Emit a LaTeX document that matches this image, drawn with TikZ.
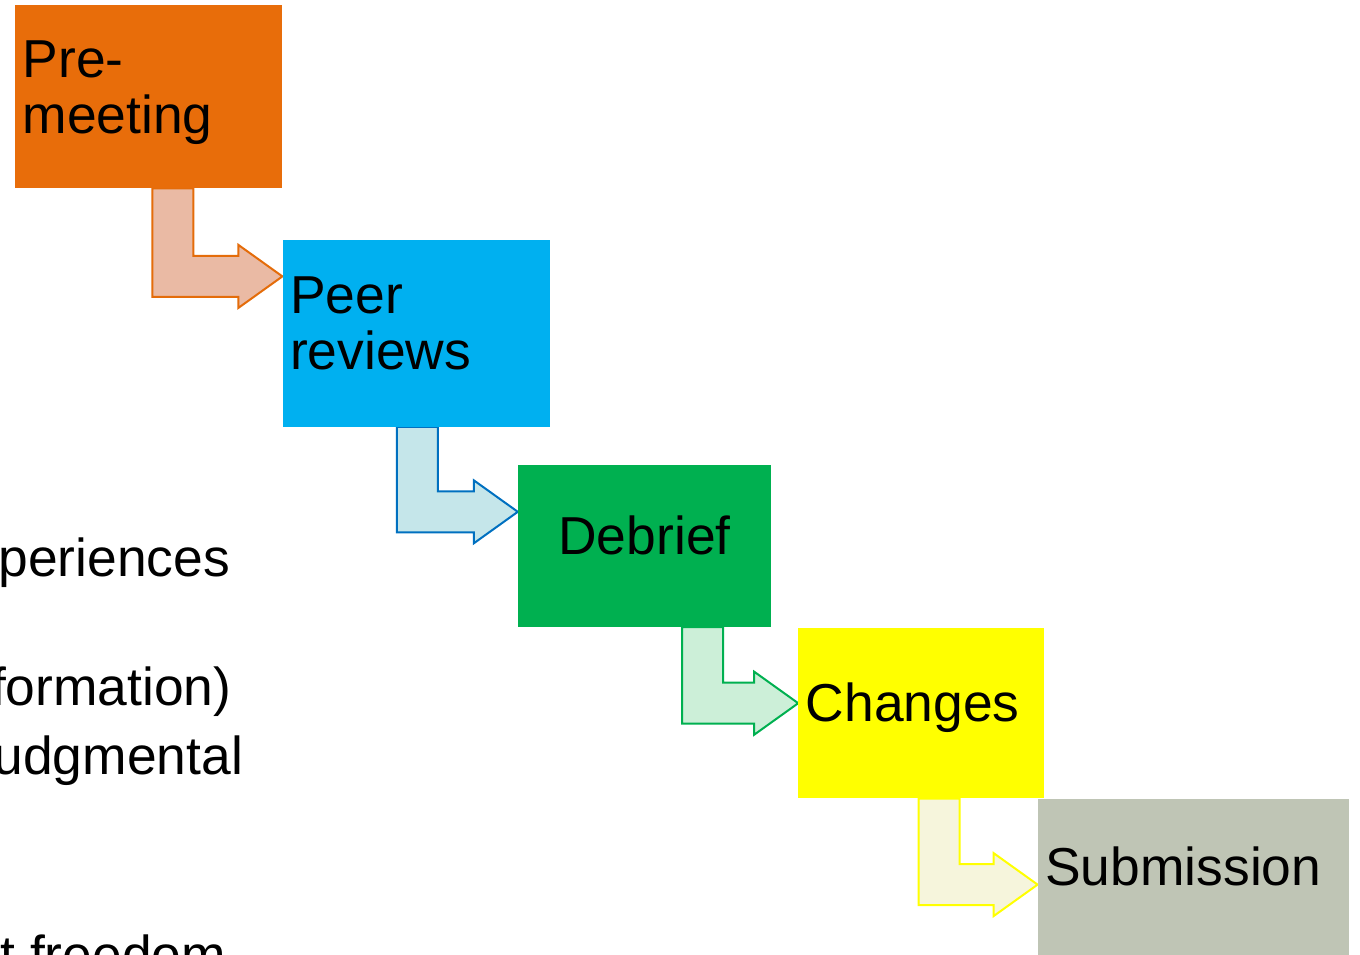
\documentclass[tikz,border=0pt]{standalone}
\usepackage{fontspec}
\setmainfont{Liberation Sans}
\usetikzlibrary{
backgrounds,
calc,
positioning
}

\definecolor{preorange}{HTML}{E86D0A}
\definecolor{peercyan}{HTML}{00B0F0}
\definecolor{debriefgreen}{HTML}{00B050}
\definecolor{changesyellow}{HTML}{FFFF00}
\definecolor{submitgray}{HTML}{BFC5B5}
% outline and fill of the bent arrows
\definecolor{orangeline}{HTML}{E46C0A}
\definecolor{orangefill}{HTML}{EABAA4}
\definecolor{blueline}{HTML}{0070C0}
\definecolor{bluefill}{HTML}{C5E6EA}
\definecolor{greenline}{HTML}{00B050}
\definecolor{greenfill}{HTML}{CCEFD8}
\definecolor{yellowline}{HTML}{FFFF00}
\definecolor{yellowfill}{HTML}{F6F5DC}

\begin{document}
\begin{tikzpicture}[x=1pt, y=1pt,
		stepbox/.style={rectangle,anchor=north west,inner xsep=7.5pt,inner ysep=0pt,align=left,
			font=\fontsize{53.4}{56}\selectfont,text height=38pt,text depth=22pt},
		twoline/.style={text depth=77pt},
		sidetext/.style={anchor=base east,font=\fontsize{53.4}{56}\selectfont},
		bendarrow/.style={line width=2pt,line join=miter}]
		\useasboundingbox (0,0) rectangle (1360,-954);

		% process steps
		\node[stepbox,twoline,fill=preorange,text width=252pt,minimum height=183pt] (pre) at (15,-5) {Pre-\\meeting};
		\node[stepbox,twoline,fill=peercyan,text width=252pt,minimum height=187pt,below right=51pt and 0pt of pre] (peer) {Peer\\reviews};
		\node[stepbox,fill=debriefgreen,text width=238pt,align=center,minimum height=162pt,below right=38pt and -32pt of peer] (debrief) {Debrief};
		\node[stepbox,fill=changesyellow,text width=231pt,minimum height=170pt,below right=1pt and 27pt of debrief] (changes) {Changes};
		\node[stepbox,fill=submitgray,text width=296pt,minimum height=158pt,below right=0pt and -7pt of changes] (submit) {Submission};

		% bent arrows between the steps
		\begin{scope}[on background layer]
		\foreach \src/\dst/\dx/\dy/\lcol/\fcol in {pre/peer/130/37/orangeline/orangefill,
				peer/debrief/121/47/blueline/bluefill,
				debrief/changes/116/75/greenline/greenfill,
				changes/submit/119/86/yellowline/yellowfill}
			\draw[bendarrow,draw=\lcol,fill=\fcol]
				let \p1 = (\src.south), \p2 = ($(\dst.north west)+(0,-\dy)$) in
				(\x2-\dx,\y1) -- (\x2-\dx+41,\y1) -- (\x2-\dx+41,\y2+20.5) -- (\x2-44,\y2+20.5)
				-- (\x2-44,\y2+31.5) -- (\x2,\y2) -- (\x2-44,\y2-31.5) -- (\x2-44,\y2-20.5)
				-- (\x2-\dx,\y2-20.5) -- cycle;
		\end{scope}

		% text running in from the left
		\node[sidetext] (periences) at (233.5,-576) {periences};
		\node[sidetext] (formation) at (235,-705) {formation)};
		\node[sidetext] (judgmental) at (246.5,-774) {udgmental};
		\node[sidetext] (freedom) at (229.5,-973) {t freedom};
\end{tikzpicture}
\end{document}
